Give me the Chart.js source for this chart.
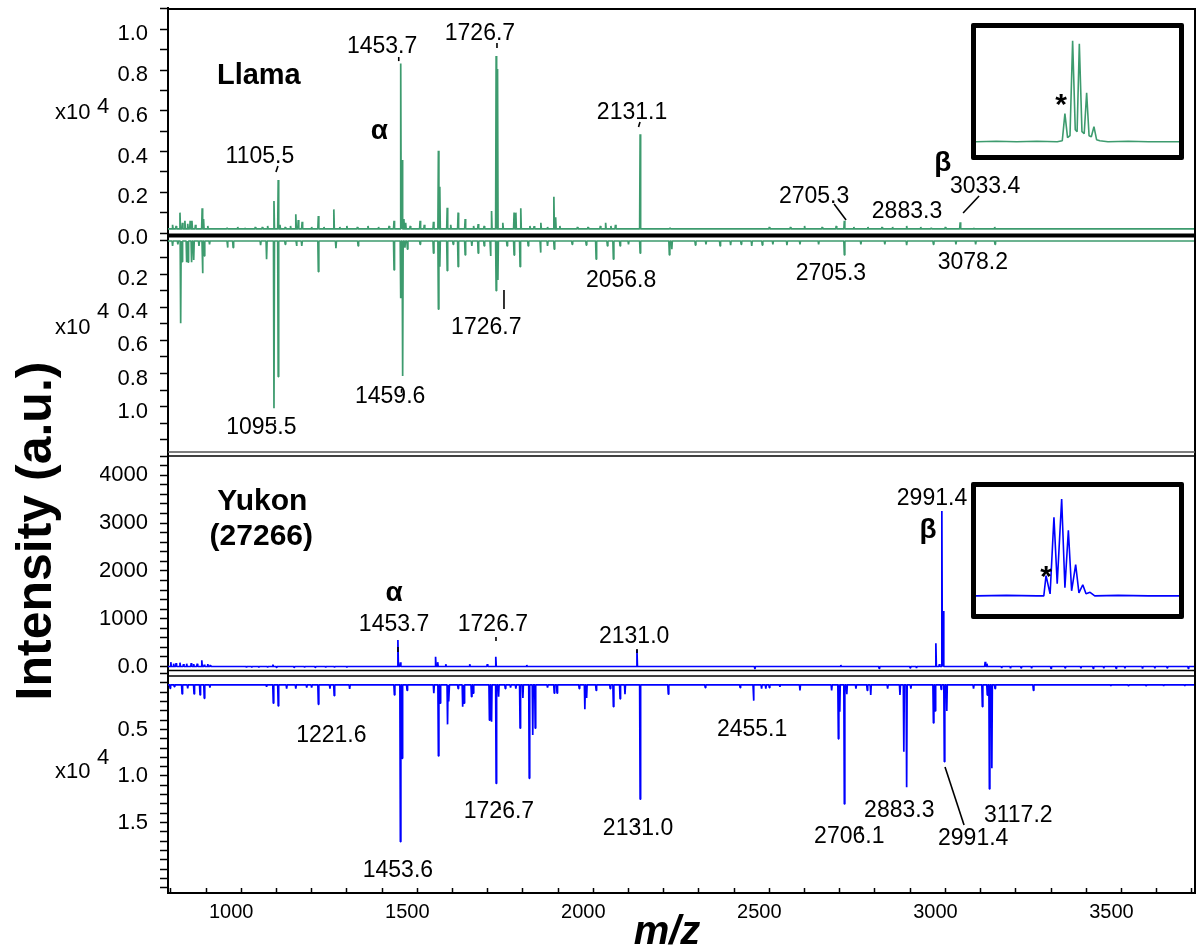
<!DOCTYPE html>
<html>
<head>
<meta charset="utf-8">
<script src="https://cdn.jsdelivr.net/npm/chart.js@4.4.1/dist/chart.umd.min.js"></script>
<style>
  body { margin: 0; background: #fff; }
  #wrap { position: relative; width: 1197px; height: 949px; }
  .inset { position: absolute; border: 5px solid #000; border-radius: 2px; background: #fff; }
  .inset canvas { display: block; }
</style>
</head>
<body>
<div id="wrap">
  <canvas id="main" width="1197" height="949"></canvas>
  <div class="inset" style="left:971px; top:23px;"><canvas id="insetLlama" width="203" height="127"></canvas></div>
  <div class="inset" style="left:971px; top:482px;"><canvas id="insetYukon" width="203" height="127"></canvas></div>
</div>
<script>
const FONT = "'Liberation Sans', Arial, Helvetica, sans-serif";
const GREEN = "#3d9b6e";
const BLUE = "#0000ff";

// m/z range of the plot
const X_MIN = 792, X_MAX = 3709;

// peaks: [m/z, intensity]
// Llama, upper trace (x10^4)
const llamaTop = [
  [805, 0.04], [815, 0.035], [826, 0.10], [833, 0.05], [840, 0.06], [848, 0.045], [855, 0.06], [860, 0.06],
  [870, 0.04], [889, 0.121], [893, 0.069], [905, 0.035], [960, 0.025], [990, 0.03], [1010, 0.025], [1040, 0.03],
  [1060, 0.03], [1075, 0.035], [1093, 0.157], [1105, 0.26], [1110, 0.04], [1125, 0.03], [1140, 0.035],
  [1155, 0.092], [1162, 0.064], [1173, 0.055], [1200, 0.03], [1219, 0.083], [1235, 0.03], [1263, 0.116],
  [1280, 0.03], [1300, 0.035], [1330, 0.03], [1360, 0.035], [1390, 0.03], [1420, 0.035], [1434, 0.06],
  [1453, 0.832], [1457, 0.358], [1462, 0.069], [1467, 0.05], [1480, 0.035], [1508, 0.06], [1520, 0.04],
  [1546, 0.055], [1560, 0.404], [1564, 0.227], [1585, 0.124], [1595, 0.04], [1616, 0.10], [1636, 0.069],
  [1660, 0.035], [1673, 0.044], [1690, 0.035], [1711, 0.108], [1724, 0.869], [1728, 0.805], [1743, 0.05],
  [1775, 0.10], [1780, 0.10], [1794, 0.121], [1820, 0.035], [1832, 0.034], [1851, 0.05], [1870, 0.03],
  [1888, 0.178], [1893, 0.077], [1905, 0.035], [1955, 0.03], [1985, 0.03], [2020, 0.035], [2035, 0.05],
  [2050, 0.035], [2063, 0.04], [2133, 0.485], [2218, 0.025], [2500, 0.03], [2560, 0.03], [2600, 0.035],
  [2650, 0.03], [2690, 0.035], [2713, 0.06], [2740, 0.03], [2780, 0.03], [2820, 0.03], [2850, 0.03],
  [2890, 0.035], [2930, 0.03], [2960, 0.025], [3000, 0.03], [3042, 0.053], [3080, 0.025], [3140, 0.03]
];
// Llama, lower (mirrored) trace (x10^4)
const llamaBottom = [
  [805, 0.03], [820, 0.02], [828, 0.497], [832, 0.125], [845, 0.128], [849, 0.128], [859, 0.128], [865, 0.115],
  [880, 0.03], [890, 0.195], [895, 0.09], [910, 0.02], [961, 0.04], [977, 0.04], [1055, 0.025], [1072, 0.11],
  [1093, 1.01], [1105, 0.819], [1125, 0.02], [1157, 0.03], [1172, 0.03], [1219, 0.185], [1269, 0.044],
  [1332, 0.03], [1434, 0.175], [1453, 0.346], [1458.5, 0.815], [1465, 0.04], [1472, 0.05], [1508, 0.02],
  [1546, 0.074], [1560, 0.412], [1564, 0.155], [1585, 0.179], [1602, 0.02], [1616, 0.155], [1636, 0.084],
  [1655, 0.03], [1673, 0.074], [1690, 0.03], [1708, 0.09], [1724, 0.30], [1729, 0.235], [1755, 0.03],
  [1775, 0.085], [1792, 0.155], [1815, 0.03], [1850, 0.07], [1870, 0.03], [1889, 0.05], [1940, 0.02],
  [1980, 0.025], [2008, 0.11], [2040, 0.03], [2057, 0.11], [2076, 0.03], [2100, 0.02], [2133, 0.074],
  [2216, 0.084], [2223, 0.05], [2290, 0.025], [2320, 0.02], [2360, 0.03], [2390, 0.025], [2420, 0.02],
  [2450, 0.03], [2480, 0.025], [2510, 0.02], [2550, 0.025], [2587, 0.02], [2640, 0.02], [2713, 0.084],
  [2760, 0.02], [2828, 0.02], [2890, 0.025], [2966, 0.02], [3030, 0.02], [3086, 0.02], [3141, 0.02]
];
// Yukon (27266), upper trace (counts)
const yukonTop = [
  [800, 90], [808, 60], [815, 70], [826, 80], [836, 50], [845, 60], [858, 70], [865, 50], [875, 60], [888, 130],
  [895, 40], [905, 50], [912, 30], [1015, -20], [1030, -15], [1050, -20], [1075, -15], [1090, 40], [1100, -20],
  [1150, -20], [1180, -15], [1210, -20], [1240, -20], [1265, -15], [1300, -20], [1445, 554], [1452, 88],
  [1552, 205], [1558, 90], [1581, 46], [1649, 46], [1699, 46], [1723, 205], [1811, 31], [2124, 345],
  [2459, -52], [2703, 31], [2812, -40], [2900, -30], [2918, -30], [2973, 485], [2983, 50], [2990, 3253],
  [2994, 1161], [3113, 100], [3118, 60], [3160, -30], [3185, -35], [3215, -30], [3245, -35], [3300, -40],
  [3340, -30], [3385, -35], [3420, -40], [3450, -35], [3485, -40], [3510, -35], [3560, -40], [3595, -35],
  [3630, -30], [3690, -40]
];
// Yukon (27266), lower (mirrored) trace (x10^4)
const yukonBottom = [
  [798, 0.057], [810, 0.04], [832, 0.118], [848, 0.057], [866, 0.118], [883, 0.129], [895, 0.165], [911, 0.05],
  [1072, 0.04], [1091, 0.218], [1105, 0.247], [1129, 0.06], [1155, 0.06], [1186, 0.05], [1200, 0.05],
  [1219, 0.229], [1252, 0.06], [1264, 0.137], [1308, 0.065], [1435, 0.129], [1452, 1.706], [1457, 0.81],
  [1471, 0.08], [1547, 0.11], [1560, 0.785], [1565, 0.218], [1586, 0.445], [1590, 0.2], [1616, 0.06],
  [1629, 0.255], [1633, 0.218], [1654, 0.147], [1659, 0.11], [1705, 0.40], [1711, 0.416], [1724, 1.08],
  [1731, 0.147], [1750, 0.06], [1765, 0.05], [1780, 0.06], [1792, 0.487], [1800, 0.16], [1818, 1.025],
  [1828, 0.56], [1835, 0.487], [1870, 0.05], [1889, 0.11], [1897, 0.11], [1960, 0.06], [1976, 0.283],
  [1981, 0.16], [2008, 0.08], [2048, 0.06], [2057, 0.255], [2076, 0.17], [2090, 0.12], [2133, 1.25],
  [2213, 0.12], [2318, 0.05], [2417, 0.05], [2455, 0.19], [2478, 0.06], [2490, 0.06], [2500, 0.05],
  [2530, 0.04], [2587, 0.08], [2677, 0.08], [2696, 0.60], [2700, 0.31], [2713, 1.30], [2720, 0.12],
  [2746, 0.06], [2778, 0.08], [2788, 0.13], [2836, 0.06], [2871, 0.13], [2882, 0.74], [2890, 1.12],
  [2902, 0.06], [2966, 0.43], [2971, 0.3], [2988, 0.07], [2997, 0.846], [3004, 0.3], [3080, 0.06],
  [3105, 0.255], [3119, 0.13], [3125, 1.14], [3132, 0.917], [3141, 0.06], [3250, 0.08], [3470, 0.03],
  [3520, 0.03], [3570, 0.03], [3620, 0.03], [3680, 0.03]
];
// baseline level of each trace
const llamaTopBase = 0.02, llamaBottomBase = 0, yukonTopBase = 0, yukonBottomBase = 0.02;

// inset traces (relative position, relative intensity)
const insetLlama = [
  [0, 0], [10, 0.5], [20, 0], [30, 0.5], [40, 0], [42.5, 1], [43.8, 28], [45.1, 4], [46.3, 6], [47.6, 101],
  [48.9, 12], [49.8, 10], [50.9, 98], [52.2, 10], [53.3, 8], [54.5, 49], [55.7, 6], [56.8, 5], [58.1, 15],
  [59.4, 2], [61, 1], [65, 0], [75, 0.5], [85, 0], [100, 0]
];
const insetYukon = [
  [0, 0], [15, 0.5], [30, 0], [33.4, 0], [34.5, 20], [36.5, 2], [38.4, 78], [40.0, 12], [42.2, 96], [43.8, 8],
  [45.5, 65], [47.1, 5], [49.1, 31], [50.7, 3], [52.6, 11], [54.2, 2], [56.2, 3.5], [58.5, 0], [70, 0.5],
  [85, 0], [100, 0]
];

// text labels: [text, axis, m/z, value, bold, size]
const notes = [
  ["Llama", "yLU", 1050, 0.771, true, 29], ["\u03b1", "yLU", 1392, 0.50, true, 28],
  ["1105.5", "yLU", 1053, 0.373, false, 23], ["1453.7", "yLU", 1400, 0.913, false, 23],
  ["1726.7", "yLU", 1678, 0.977, false, 23], ["2131.1", "yLU", 2110, 0.589, false, 23],
  ["2705.3", "yLU", 2627, 0.177, false, 23], ["2883.3", "yLU", 2891, 0.103, false, 23],
  ["3033.4", "yLU", 3113, 0.226, false, 23], ["\u03b2", "yLU", 2993, 0.344, true, 28],
  ["1095.5", "yLD", 1057, 1.129, false, 23], ["1459.6", "yLD", 1423, 0.941, false, 23],
  ["1726.7", "yLD", 1696, 0.525, false, 23], ["2056.8", "yLD", 2079, 0.241, false, 23],
  ["2705.3", "yLD", 2675, 0.199, false, 23], ["3078.2", "yLD", 3078, 0.133, false, 23],
  ["Yukon", "yYU", 1060, 3442, true, 30], ["(27266)", "yYU", 1057, 2709, true, 30],
  ["\u03b1", "yYU", 1434, 1538, true, 28], ["1453.7", "yYU", 1434, 868, false, 23],
  ["1726.7", "yYU", 1715, 868, false, 23], ["2131.0", "yYU", 2116, 617, false, 23],
  ["2991.4", "yYU", 2962, 3504, false, 23], ["\u03b2", "yYU", 2951, 2856, true, 28],
  ["1221.6", "yYD", 1256, 0.57, false, 23], ["1453.6", "yYD", 1445, 2.02, false, 23],
  ["1726.7", "yYD", 1732, 1.387, false, 23], ["2131.0", "yYD", 2127, 1.57, false, 23],
  ["2455.1", "yYD", 2451, 0.505, false, 23], ["2706.1", "yYD", 2727, 1.656, false, 23],
  ["2883.3", "yYD", 2869, 1.376, false, 23], ["2991.4", "yYD", 3079, 1.677, false, 23],
  ["3117.2", "yYD", 3207, 1.43, false, 23]
];
// leader marks: [axis, m/z1, value1, m/z2, value2]
const leaders = [
  ["yLU", 1104.3, 0.329, 1098.6, 0.30], ["yLU", 1447.4, 0.864, 1447.4, 0.844],
  ["yLU", 1726.4, 0.933, 1726.4, 0.908], ["yLU", 2132.7, 0.545, 2128.4, 0.52],
  ["yLU", 2683.8, 0.142, 2717.9, 0.064], ["yLU", 3095.7, 0.182, 3050.3, 0.098],
  ["yLD", 1095.7, 1.08, 1095.7, 1.104], ["yLD", 1455.3, 0.893, 1455.3, 0.917],
  ["yLD", 1746.3, 0.296, 1746.3, 0.41],
  ["yYU", 1445.2, 408, 1445.2, 303], ["yYU", 1723.6, 617, 1723.6, 533], ["yYU", 2124.1, 366, 2124.1, 282],
  ["yYD", 2999, 0.903, 3053, 1.527], ["yYD", 1735, 1.333, 1735, 1.366], ["yYD", 2122.3, 1.505, 2122.3, 1.548],
  ["yYD", 2758, 1.548, 2758, 1.602]
];
// "x10^4" exponent markers: [axis, value for "x10", value for "4"]
const exponents = [["yLU", 0.589, 0.62], ["yLD", 0.525, 0.428], ["yYD", 0.957, 0.806]];

function trace(peaks, base) {
  const pts = [{x: X_MIN, y: base}, {x: X_MAX, y: base}];
  peaks.forEach(([mz, h]) => {
    pts.push({x: mz - 1.4, y: base}, {x: mz, y: h}, {x: mz + 1.4, y: base});
  });
  return pts.sort((a, b) => a.x - b.x);
}

function lineSet(label, data, color, axis) {
  return {
    label, data, yAxisID: axis,
    borderColor: color, borderWidth: 1.7, borderJoinStyle: "bevel",
    pointRadius: 0, tension: 0, fill: false
  };
}

function yAxis(opts) {
  return Object.assign({
    type: "linear", position: "left", stack: "panels",
    border: {color: "#000", width: 2},
    grid: {drawOnChartArea: false, color: "#000", tickLength: 8, tickWidth: 1.5},
    ticks: {autoSkip: false, includeBounds: false, padding: 12, color: "#000", font: {family: FONT, size: 22}},
    afterFit: s => { s.width = 68; s.paddingTop = 0; s.paddingBottom = 0; }
  }, opts, {ticks: Object.assign({autoSkip: false, includeBounds: false, padding: 12, color: "#000",
    font: {family: FONT, size: 22}}, opts.ticks)});
}

const tenth = v => Math.round(v * 10);

const overlay = {
  id: "overlay",
  afterDatasetsDraw(chart) {
    const {ctx, chartArea: a, scales} = chart;
    const hl = (y, w, c) => { ctx.strokeStyle = c; ctx.lineWidth = w; ctx.beginPath(); ctx.moveTo(a.left, y); ctx.lineTo(a.right, y); ctx.stroke(); };
    ctx.save();
    // frame and panel separators
    hl(a.top + 1, 2, "#000");
    ctx.lineWidth = 2; ctx.strokeStyle = "#000";
    ctx.beginPath(); ctx.moveTo(a.right, a.top); ctx.lineTo(a.right, a.bottom); ctx.stroke();
    hl(scales.yLU.bottom - 1.5, 4, "#000");
    hl(scales.yLD.bottom - 3, 1.5, "#555");
    hl(scales.yLD.bottom + 1, 1.5, "#000");
    hl(scales.yYU.bottom - 1.5, 1.5, "#000");
    hl(scales.yYU.bottom + 4, 1.5, "#000");

    // leader marks
    ctx.strokeStyle = "#000"; ctx.lineWidth = 1.6;
    leaders.forEach(([ax, m1, v1, m2, v2]) => {
      ctx.beginPath();
      ctx.moveTo(scales.x.getPixelForValue(m1), scales[ax].getPixelForValue(v1));
      ctx.lineTo(scales.x.getPixelForValue(m2), scales[ax].getPixelForValue(v2));
      ctx.stroke();
    });

    // labels
    ctx.fillStyle = "#000"; ctx.textAlign = "center"; ctx.textBaseline = "middle";
    notes.forEach(([t, ax, m, v, bold, size]) => {
      ctx.font = (bold ? "bold " : "") + size + "px " + FONT;
      ctx.fillText(t, scales.x.getPixelForValue(m), scales[ax].getPixelForValue(v));
    });

    // x10^4 markers
    ctx.textAlign = "left"; ctx.font = "22px " + FONT;
    exponents.forEach(([ax, v1, v2]) => {
      ctx.fillText("x10", a.left - 113, scales[ax].getPixelForValue(v1));
      ctx.fillText("4", a.left - 71, scales[ax].getPixelForValue(v2));
    });

    // axis titles
    ctx.font = "bold 50px " + FONT; ctx.textAlign = "center";
    ctx.save(); ctx.translate(37, 531); ctx.rotate(-Math.PI / 2); ctx.fillText("Intensity (a.u.)", 0, 0); ctx.restore();
    ctx.font = "italic bold 40px " + FONT; ctx.textBaseline = "alphabetic";
    ctx.fillText("m/z", 667, 944);
    ctx.restore();
  }
};

new Chart(document.getElementById("main"), {
  type: "line",
  data: {
    datasets: [
      lineSet("Llama", trace(llamaTop, llamaTopBase), GREEN, "yLU"),
      lineSet("Llama mirror", trace(llamaBottom, llamaBottomBase), GREEN, "yLD"),
      lineSet("Yukon", trace(yukonTop, yukonTopBase), BLUE, "yYU"),
      lineSet("Yukon mirror", trace(yukonBottom, yukonBottomBase), BLUE, "yYD")
    ]
  },
  options: {
    responsive: false, animation: false, devicePixelRatio: 1,
    layout: {padding: {left: 100, right: 2, top: 8, bottom: 26}},
    plugins: {legend: {display: false}, tooltip: {enabled: false}},
    scales: {
      x: {
        type: "linear", position: "bottom", min: X_MIN, max: X_MAX,
        border: {color: "#000", width: 2},
        grid: {drawOnChartArea: false, color: "#000", tickLength: -5, tickWidth: 1.5},
        ticks: {stepSize: 100, autoSkip: false, includeBounds: false, maxRotation: 0, labelOffset: -10,
          padding: 12, color: "#000", font: {family: FONT, size: 20},
          callback: v => (Math.round(v) % 500 === 0 ? String(Math.round(v)) : "")},
        afterFit: s => { s.height = 30; s.paddingLeft = 0; s.paddingRight = 0; }
      },
      yLU: yAxis({weight: 4, stackWeight: 229, min: -0.0196, max: 1.1046,
        ticks: {stepSize: 0.1, labelOffset: 5, callback: v => (tenth(v) % 2 === 0 && tenth(v) <= 10 ? v.toFixed(1) : "")}}),
      yLD: yAxis({weight: 3, stackWeight: 218, reverse: true, min: -0.024, max: 1.2915,
        ticks: {stepSize: 0.1, labelOffset: 5, callback: v => (tenth(v) % 2 === 0 && tenth(v) >= 2 && tenth(v) <= 10 ? v.toFixed(1) : "")}}),
      yYU: yAxis({weight: 2, stackWeight: 217, min: -115, max: 4425,
        ticks: {stepSize: 200, callback: v => (v % 1000 === 0 ? (v === 0 ? "0.0" : String(v)) : "")}}),
      yYD: yAxis({weight: 1, stackWeight: 221, reverse: true, min: -0.118, max: 2.258,
        ticks: {stepSize: 0.1, callback: v => ([5, 10, 15].includes(tenth(v)) ? v.toFixed(1) : "")}})
    }
  },
  plugins: [overlay]
});

function insetChart(id, pts, color, yMin, yMax, star) {
  new Chart(document.getElementById(id), {
    type: "line",
    data: {datasets: [{data: pts.map(([x, y]) => ({x, y})), borderColor: color, borderWidth: 1.6,
      pointRadius: 0, tension: 0, borderJoinStyle: "bevel"}]},
    options: {
      responsive: false, animation: false, devicePixelRatio: 1,
      layout: {padding: 0},
      plugins: {legend: {display: false}, tooltip: {enabled: false}},
      scales: {
        x: {type: "linear", display: false, min: 0, max: 100},
        y: {type: "linear", display: false, min: yMin, max: yMax}
      }
    },
    plugins: [{
      id: "star",
      afterDatasetsDraw(chart) {
        const {ctx, scales} = chart;
        ctx.save();
        ctx.fillStyle = "#000"; ctx.font = "bold 30px " + FONT;
        ctx.textAlign = "center"; ctx.textBaseline = "alphabetic";
        ctx.fillText("*", scales.x.getPixelForValue(star[0]), scales.y.getPixelForValue(star[1]));
        ctx.restore();
      }
    }]
  });
}
insetChart("insetLlama", insetLlama, GREEN, -13.3, 113.7, [41.9, 27.7]);
insetChart("insetYukon", insetYukon, BLUE, -18, 108, [34.5, 10]);
</script>
</body>
</html>
